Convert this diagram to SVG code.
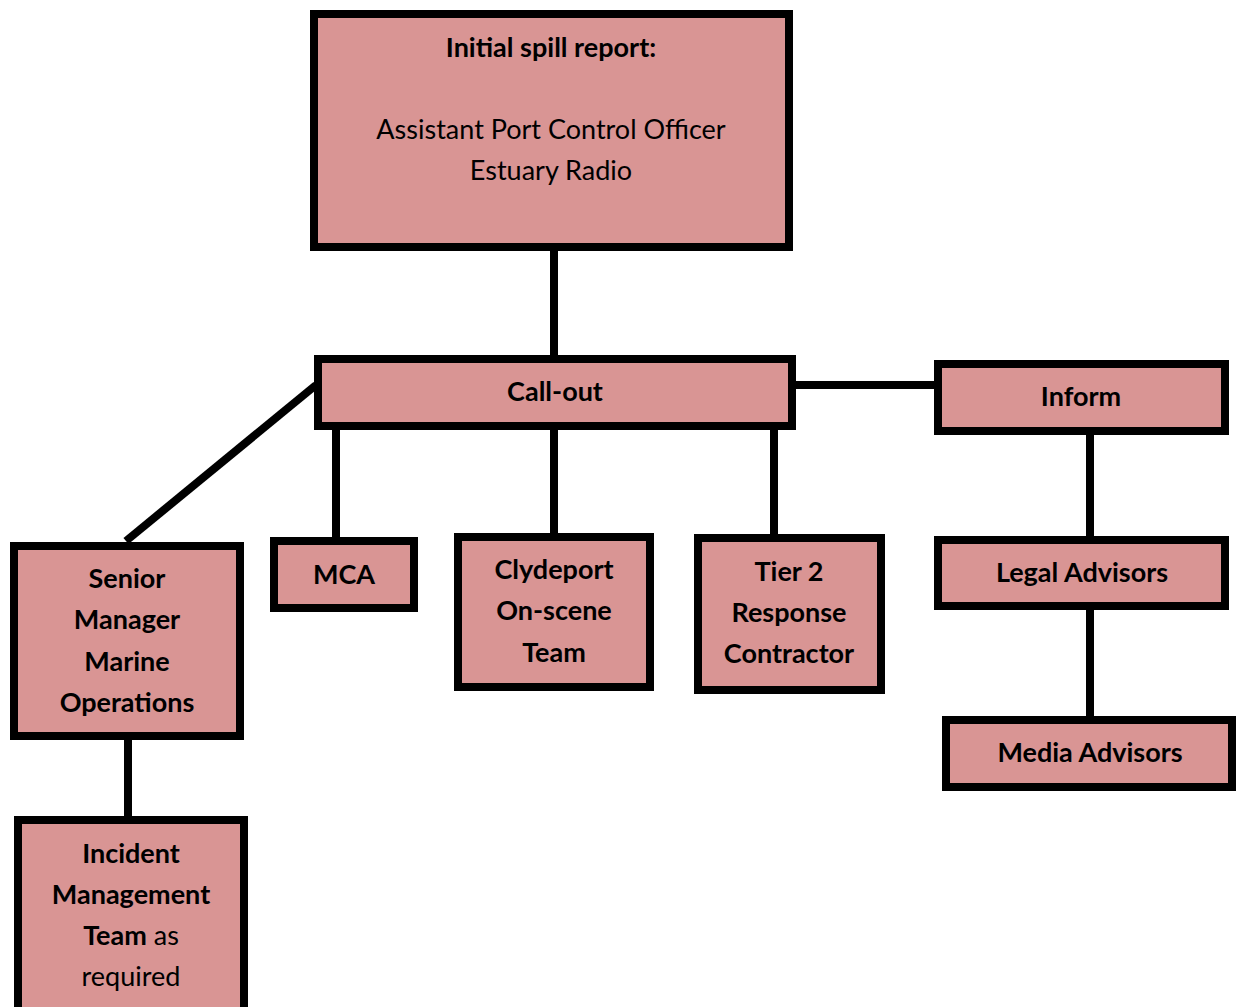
<svg xmlns="http://www.w3.org/2000/svg" width="1237" height="1007" viewBox="0 0 1237 1007">
<style>
.box{fill:#D99594;stroke:#000;stroke-width:8}
.con{stroke:#000;stroke-width:8;fill:none}
text{font-family:Lato,"Open Sans",sans-serif;font-size:27px;fill:#000;text-anchor:middle}
.b{font-weight:bold}
</style>
<rect width="1237" height="1007" fill="#fff"/>
<g id="connectors">
<line class="con" x1="554" y1="247" x2="554" y2="359"/>
<line class="con" x1="316" y1="385" x2="126" y2="541"/>
<line class="con" x1="336" y1="426" x2="336" y2="541"/>
<line class="con" x1="554" y1="426" x2="554" y2="537"/>
<line class="con" x1="774" y1="426" x2="774" y2="538"/>
<line class="con" x1="792" y1="385" x2="938" y2="385"/>
<line class="con" x1="1090" y1="431" x2="1090" y2="540"/>
<line class="con" x1="1090" y1="606" x2="1090" y2="720"/>
<line class="con" x1="128" y1="736" x2="128" y2="820"/>
</g>
<g id="initial-report">
<rect class="box" x="314" y="14" width="475" height="233"/>
<text class="b" x="551" y="57">Initial spill report:</text>
<text x="551" y="139">Assistant Port Control Officer</text>
<text x="551" y="180">Estuary Radio</text>
</g>
<g id="call-out">
<rect class="box" x="318" y="359" width="474" height="67"/>
<text class="b" x="555" y="401">Call-out</text>
</g>
<g id="inform">
<rect class="box" x="938" y="364" width="287" height="67"/>
<text class="b" x="1081" y="406">Inform</text>
</g>
<g id="legal-advisors">
<rect class="box" x="938" y="540" width="287" height="66"/>
<text class="b" x="1082" y="582">Legal Advisors</text>
</g>
<g id="media-advisors">
<rect class="box" x="946" y="720" width="286" height="67"/>
<text class="b" x="1090" y="762">Media Advisors</text>
</g>
<g id="senior-manager">
<rect class="box" x="14" y="546" width="226" height="190"/>
<text class="b" x="127" y="588">Senior</text>
<text class="b" x="127" y="629">Manager</text>
<text class="b" x="127" y="671">Marine</text>
<text class="b" x="127" y="712">Operations</text>
</g>
<g id="mca">
<rect class="box" x="274" y="541" width="140" height="67"/>
<text class="b" x="344" y="584">MCA</text>
</g>
<g id="clydeport">
<rect class="box" x="458" y="537" width="192" height="150"/>
<text class="b" x="554" y="579">Clydeport</text>
<text class="b" x="554" y="620">On-scene</text>
<text class="b" x="554" y="662">Team</text>
</g>
<g id="tier2">
<rect class="box" x="698" y="538" width="183" height="152"/>
<text class="b" x="789" y="581">Tier 2</text>
<text class="b" x="789" y="622">Response</text>
<text class="b" x="789" y="663">Contractor</text>
</g>
<g id="incident-team">
<rect class="box" x="18" y="820" width="226" height="200"/>
<text class="b" x="131" y="863">Incident</text>
<text class="b" x="131" y="904">Management</text>
<text x="131" y="945"><tspan class="b">Team</tspan> as</text>
<text x="131" y="986">required</text>
</g>
</svg>
